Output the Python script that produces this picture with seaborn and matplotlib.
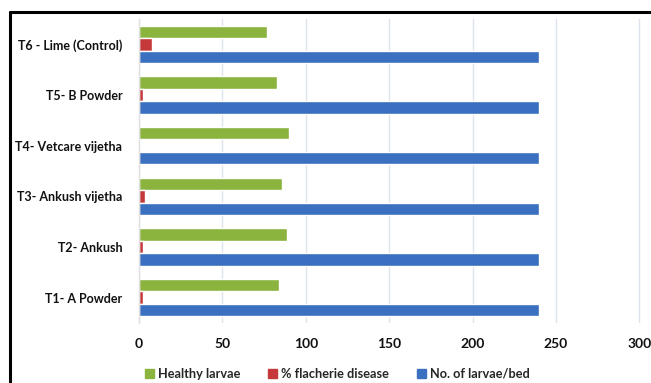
import matplotlib
matplotlib.use("Agg")
import matplotlib.pyplot as plt
from matplotlib.lines import Line2D
import seaborn as sns
import pandas as pd

treatments = ["T6 - Lime (Control)", "T5- B Powder", "T4- Vetcare vijetha",
              "T3- Ankush vijetha", "T2- Ankush", "T1- A Powder"]
healthy_larvae = [77, 83, 90, 86, 89, 84]
flacherie_pct = [7.5, 2.5, 0.5, 3.5, 2.5, 2.5]
larvae_per_bed = [240, 240, 240, 240, 240, 240]
series_names = ["Healthy larvae", "% flacherie disease", "No. of larvae/bed"]
colors = ["#8BB43F", "#C6393A", "#3A70BF"]

df = pd.DataFrame({
    "treatment": treatments * 3,
    "value": healthy_larvae + flacherie_pct + larvae_per_bed,
    "series": [series_names[0]] * 6 + [series_names[1]] * 6 + [series_names[2]] * 6,
})

sns.set_theme(style="white")
plt.rcParams["font.family"] = ["Lato", "DejaVu Sans"]

W, H = 651, 383
fig = plt.figure(figsize=(W / 100, H / 100), dpi=100)
ax = fig.add_axes([139 / W, 1 - 323 / H, (W - 139) / W, 304 / H])

sns.barplot(data=df, x="value", y="treatment", hue="series", order=treatments,
            hue_order=series_names, palette=colors, orient="h", width=0.74,
            saturation=1, ax=ax, legend=False)

ax.set_xlim(0, 307)
ax.set_xticks([0, 50, 100, 150, 200, 250, 300])
ax.set_xlabel("")
ax.set_ylabel("")
ax.grid(axis="x", color="#DCE3EC", linewidth=1)
ax.set_axisbelow(True)
for side in ["top", "right", "bottom"]:
    ax.spines[side].set_visible(False)
ax.spines["left"].set_color("#E0E0E0")
ax.spines["left"].set_linewidth(1)
ax.tick_params(axis="both", length=0, colors="#111111")
ax.tick_params(axis="x", pad=11, labelsize=10)
ax.tick_params(axis="y", pad=12, labelsize=9)
for lbl in ax.get_xticklabels() + ax.get_yticklabels():
    lbl.set_fontweight("bold")

handles = [plt.Rectangle((0, 0), 1, 1, color=c) for c in colors]
fig.legend(handles, series_names, loc="center", bbox_to_anchor=(337 / W, 1 - 374 / H),
           ncol=3, frameon=False, handlelength=0.7, handleheight=0.7,
           handletextpad=0.3, columnspacing=2.2,
           prop={"family": ["Lato", "DejaVu Sans"], "weight": "bold", "size": 9.2})

# outer frame
fig.add_artist(Line2D([10 / W, 1], [1 - 12 / H, 1 - 12 / H], color="black", linewidth=2.2))
fig.add_artist(Line2D([10 / W, 10 / W], [0, 1 - 12 / H], color="black", linewidth=2.2))

fig.savefig("out.png", dpi=100)
